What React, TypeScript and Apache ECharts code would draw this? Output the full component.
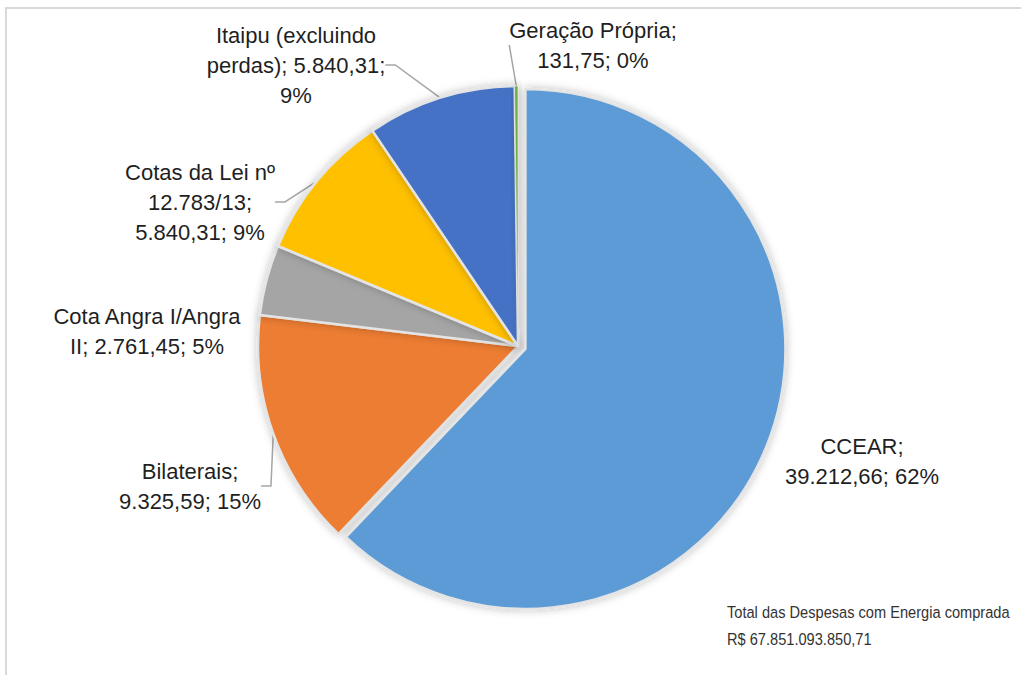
import React, { useEffect, useRef } from "react";
import * as echarts from "echarts";

const categories = [
  "CCEAR",
  "Bilaterais",
  "Cota Angra I/Angra II",
  "Cotas da Lei nº 12.783/13",
  "Itaipu (excluindo perdas)",
  "Geração Própria",
];
const values = [39212.66, 9325.59, 2761.45, 5840.31, 5840.31, 131.75];
const labelTexts = [
  "CCEAR;\n39.212,66; 62%",
  "Bilaterais;\n9.325,59; 15%",
  "Cota Angra I/Angra\nII; 2.761,45; 5%",
  "Cotas da Lei nº\n12.783/13;\n5.840,31; 9%",
  "Itaipu (excluindo\nperdas); 5.840,31;\n9%",
  "Geração Própria;\n131,75; 0%",
];
const colors = ["#5B9BD5", "#ED7D31", "#A5A5A5", "#FFC000", "#4472C4", "#70AD47"];
const exploded = [true, false, false, false, false, false];
const showLeader = [false, true, false, true, true, true];
const labelPos = [
  [862, 461],
  [190, 486],
  [147, 331],
  [200, 202],
  [296, 65],
  [593, 45],
];
const totalLines = ["Total das Despesas com Energia comprada", "R$ 67.851.093.850,71"];

const FONT = "'Liberation Sans', Arial, sans-serif";
const CENTER = [518, 346];
const RADIUS = 260;
const EXPLODE = 8;

export default function App() {
  const ref = useRef<HTMLDivElement>(null);
  useEffect(() => {
    document.body.style.margin = "0";
    const chart = echarts.init(ref.current!, null, { renderer: "svg" });

    const total = values.reduce((a, b) => a + b, 0);
    // mid-angle of the exploded slice, for its offset
    let acc = 0;
    let explodeCenter = CENTER;
    values.forEach((v, i) => {
      if (exploded[i]) {
        const midFrac = (acc + v / 2) / total;
        const ang = (Math.PI / 2) - midFrac * 2 * Math.PI;
        explodeCenter = [CENTER[0] + EXPLODE * Math.cos(ang), CENTER[1] - EXPLODE * Math.sin(ang)];
      }
      acc += v;
    });

    const hidden = {
      itemStyle: { color: "rgba(0,0,0,0)", borderWidth: 0, shadowBlur: 0, shadowColor: "rgba(0,0,0,0)" },
      label: { show: false },
      labelLine: { show: false },
    };

    const makeSeries = (center: number[], wantExploded: boolean) => ({
      type: "pie",
      center,
      radius: [0, RADIUS],
      startAngle: 90,
      clockwise: true,
      avoidLabelOverlap: false,
      silent: true,
      itemStyle: {
        borderColor: "#e4e4e4",
        borderWidth: 2.5,
        shadowBlur: 8,
        shadowColor: "rgba(0,0,0,0.25)",
      },
      label: {
        show: true,
        position: "outside",
        fontFamily: FONT,
        fontSize: 22,
        color: "#1f1f1f",
        lineHeight: 30,
        align: "center",
        formatter: (p: any) => labelTexts[p.dataIndex],
      },
      labelLine: {
        show: true,
        length: 10,
        length2: 10,
        lineStyle: { color: "#a6a6a6", width: 1.5 },
      },
      labelLayout: (p: any) => {
        const pos = labelPos[p.dataIndex];
        return { x: pos[0], y: pos[1], align: "center", verticalAlign: "middle" };
      },
      emphasis: { disabled: true },
      data: categories.map((c, i) =>
        exploded[i] === wantExploded
          ? {
              name: c,
              value: values[i],
              itemStyle: {
                color: colors[i],
                ...(i === 5 ? { borderWidth: 0.8 } : {}),
              },
              labelLine: { show: showLeader[i] },
            }
          : { name: c, value: values[i], ...hidden }
      ),
    });

    chart.setOption({
      animation: false,
      backgroundColor: "#ffffff",
      graphic: [
        {
          type: "polyline",
          shape: { points: [[6, 675], [6, 8], [1021, 8]] },
          style: { stroke: "#d9d9d9", lineWidth: 2, fill: "none" },
          silent: true,
        },
        {
          type: "text",
          x: 727,
          y: 599,
          scaleX: 0.86,
          style: {
            text: totalLines.join("\n"),
            font: `17px ${FONT}`,
            fill: "#333333",
            lineHeight: 27,
          },
        },
      ],
      series: [makeSeries(CENTER, false), makeSeries(explodeCenter, true)],
    });
    return () => chart.dispose();
  }, []);
  return <div ref={ref} style={{ width: 1021, height: 675 }} />;
}
